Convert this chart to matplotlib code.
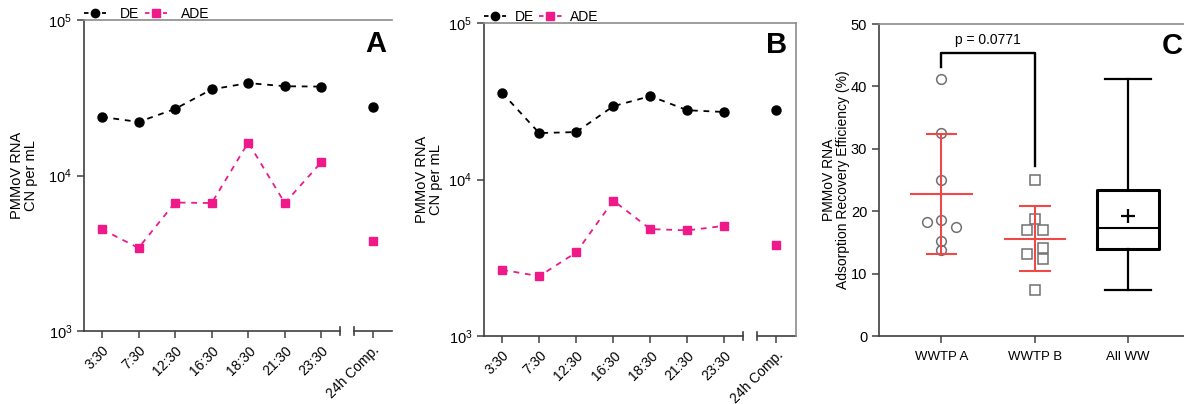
import numpy as np
import matplotlib.pyplot as plt
from matplotlib.lines import Line2D

plt.rcParams['font.family'] = ['Liberation Sans', 'DejaVu Sans']
plt.rcParams['font.size'] = 9
plt.rcParams['axes.linewidth'] = 1.2

# sampling times + composite sample
times = ['3:30', '7:30', '12:30', '16:30', '18:30', '21:30', '23:30']
comp_label = '24h Comp.'

# PMMoV RNA, CN per mL - WWTP A
de_a = [23800, 22100, 26800, 35800, 39300, 37500, 37300]
de_a_comp = 27600
ade_a = [4510, 3420, 6700, 6650, 16300, 6650, 12200]
ade_a_comp = 3810

# PMMoV RNA, CN per mL - WWTP B
de_b = [35800, 19800, 20100, 29400, 34100, 27700, 27000]
de_b_comp = 27700
ade_b = [2650, 2410, 3420, 7330, 4820, 4730, 5060]
ade_b_comp = 3810

# adsorption recovery efficiency (%)
wwtp_a = [41.2, 32.6, 25.0, 18.6, 18.2, 17.5, 15.2, 13.8]
wwtp_b = [25.0, 18.7, 17.0, 17.0, 14.1, 13.2, 12.3, 7.4]
groups = ['WWTP A', 'WWTP B', 'All WW']
p_text = 'p = 0.0771'

# horizontal scatter of the points (prism style)
jit_a = [0, 0, 0, 0, -0.16, 0.16, 0, 0]
jit_b = [0, 0, -0.085, 0.085, 0.085, -0.085, 0.085, 0]

PINK = '#F0198A'
RED = '#F04848'
SPINE = '#404040'
LIGHT = '#8C8C8C'

fig = plt.figure(figsize=(11.84, 4.04), dpi=100)


def time_panel(ax, de, de_comp, ade, ade_comp, letter, letter_xy, right_spine, legend_gap, label_x):
    x = np.arange(len(times))
    x_comp = 7.4
    dash = (0, (3.2, 3.2))
    ax.plot(x, de, color='black', ls=dash, lw=1.3, marker='o', ms=6.5, mec='black', label='DE')
    ax.plot([x_comp], [de_comp], ls='none', marker='o', ms=6.5, color='black')
    ax.plot(x, ade, color=PINK, ls=dash, lw=1.3, marker='s', ms=6, label='ADE')
    ax.plot([x_comp], [ade_comp], ls='none', marker='s', ms=6, color=PINK)

    ax.set_yscale('log')
    ax.set_ylim(1e3, 1e5)
    ax.set_yticks([1e3, 1e4, 1e5])
    ax.set_yticklabels([r'$\mathregular{10^3}$', r'$\mathregular{10^4}$', r'$\mathregular{10^5}$'], fontsize=10.5)
    ax.yaxis.set_minor_locator(plt.NullLocator())
    ax.set_xlim(-0.49, 7.93)
    ax.set_xticks(list(x) + [x_comp])
    ax.set_xticklabels(times + [comp_label], rotation=45, ha='right', rotation_mode='anchor', fontsize=10)
    ax.tick_params(axis='both', length=5, width=1.1, color=SPINE)
    ax.tick_params(axis='x', pad=4)

    ax.spines['bottom'].set_visible(False)
    ax.spines['left'].set_color(SPINE)
    ax.spines['top'].set_color(LIGHT)
    ax.spines['right'].set_color(LIGHT)
    ax.spines['right'].set_visible(right_spine)

    # broken x axis
    tr = ax.get_xaxis_transform()
    for x0, x1 in [(-0.49, 6.5), (6.88, 7.93)]:
        ax.plot([x0, x1], [0, 0], color=SPINE, lw=1.2, transform=tr, clip_on=False)
    for xb in (6.5, 6.88):
        ax.plot([xb, xb], [-0.013, 0.013], color=SPINE, lw=1.2, transform=tr, clip_on=False)

    ax.set_ylabel('PMMoV RNA\nCN per mL', fontsize=10.5, linespacing=1.0)
    ax.yaxis.set_label_coords(label_x, 0.5)

    handles = [Line2D([], [], color='black', ls=(0, (2.5, 2.5)), lw=1.3, marker='o', ms=6),
               Line2D([], [], color=PINK, ls=(0, (2.5, 2.5)), lw=1.3, marker='s', ms=5.5)]
    ax.legend(handles, ['DE', 'ADE'], loc='center left', bbox_to_anchor=(0.0, 1.02), ncol=2,
              frameon=False, borderpad=0, borderaxespad=0, handlelength=1.6,
              handletextpad=legend_gap, columnspacing=0.4, fontsize=10)

    fig.text(letter_xy[0] / 1184, 1 - letter_xy[1] / 404, letter, fontsize=21,
             fontweight='bold', ha='right', va='baseline')


ax_a = fig.add_axes([84 / 1184, 1 - 331 / 404, 308 / 1184, 311 / 404])
time_panel(ax_a, de_a, de_a_comp, ade_a, ade_a_comp, 'A', (386, 52), False, 1.0, -0.148)

ax_b = fig.add_axes([484 / 1184, 1 - 336 / 404, 312 / 1184, 313 / 404])
time_panel(ax_b, de_b, de_b_comp, ade_b, ade_b_comp, 'B', (787, 53), True, 0.6, -0.13)

# panel C - recovery efficiency
ax_c = fig.add_axes([879 / 1184, 1 - 336 / 404, 333 / 1184, 312 / 404])
for i, (vals, jit, mk) in enumerate([(wwtp_a, jit_a, 'o'), (wwtp_b, jit_b, 's')]):
    vals = np.array(vals)
    ax_c.plot(i + np.array(jit), vals, ls='none', marker=mk, ms=7, mfc='none',
              mec='#707070', mew=1.1, zorder=2)
    m, sd = vals.mean(), vals.std(ddof=1)
    ax_c.vlines(i, m - sd, m + sd, color=RED, lw=1.5, zorder=3)
    ax_c.hlines(m, i - 0.335, i + 0.335, color=RED, lw=1.5, zorder=3)
    ax_c.hlines([m - sd, m + sd], i - 0.17, i + 0.17, color=RED, lw=1.5, zorder=3)

all_ww = np.array(wwtp_a + wwtp_b)
q1, med, q3 = np.percentile(all_ww, [25, 50, 75], method='weibull')
stats = [dict(med=med, q1=q1, q3=q3, whislo=all_ww.min(), whishi=all_ww.max(),
              mean=all_ww.mean(), fliers=[])]
ax_c.bxp(stats, positions=[2], widths=0.66, capwidths=0.49, showmeans=True,
         boxprops=dict(lw=2.2, color='black'), medianprops=dict(lw=1.5, color='black'),
         whiskerprops=dict(lw=1.6, color='black'), capprops=dict(lw=1.6, color='black'),
         meanprops=dict(marker='+', ms=10, mew=1.6, mec='black'), manage_ticks=False)

# significance bracket
ax_c.plot([0, 0, 1, 1], [43.1, 45.3, 45.3, 27.2], color='black', lw=1.7, clip_on=False)
ax_c.text(0.5, 46.3, p_text, ha='center', va='bottom', fontsize=10)

ax_c.set_ylim(0, 50)
ax_c.set_yticks(range(0, 51, 10))
ax_c.set_xlim(-0.67, 2.9)
ax_c.set_xticks(range(3))
ax_c.set_xticklabels(groups, fontsize=9.5)
ax_c.tick_params(axis='both', length=5, width=1.1, color=SPINE, labelsize=9.5)
ax_c.tick_params(axis='y', labelsize=10.5)
ax_c.tick_params(axis='x', pad=6)
for s in ('left', 'bottom'):
    ax_c.spines[s].set_color(SPINE)
ax_c.spines['top'].set_color(LIGHT)
ax_c.spines['right'].set_visible(False)
ax_c.set_ylabel('PMMoV RNA\nAdsorption Recovery Efficiency (%)', fontsize=10, linespacing=1.0)
ax_c.yaxis.set_label_coords(-0.088, 0.5)
fig.text(1183 / 1184, 1 - 54 / 404, 'C', fontsize=21, fontweight='bold', ha='right', va='baseline')

fig.savefig('out.png', dpi=100)
